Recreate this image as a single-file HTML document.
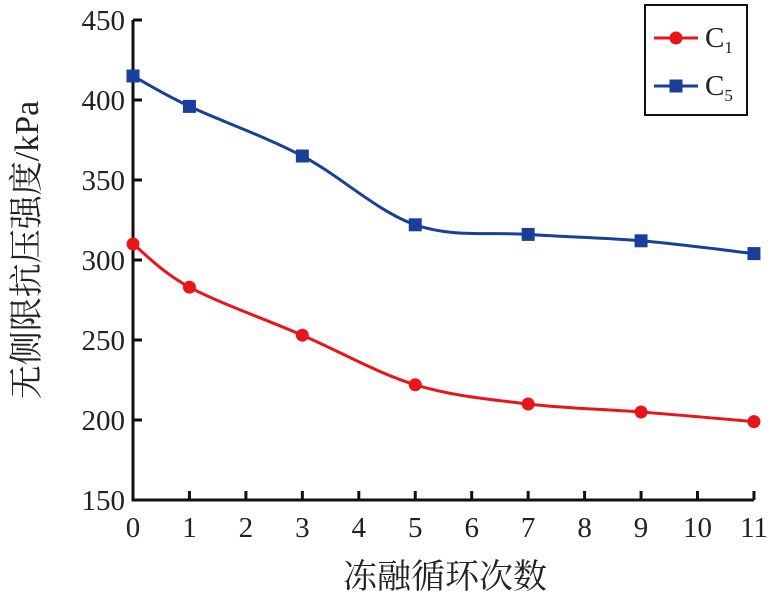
<!DOCTYPE html>
<html><head><meta charset="utf-8"><style>body{margin:0;background:#fff}svg{display:block}text{font-family:"Liberation Serif","Noto Serif CJK SC",serif}</style></head>
<body>
<svg id="c" width="775" height="596"></svg>
<script>
const xCats=[0,1,3,5,7,9,11];
const c1Vals=[310,283,253,222,210,205,199];
const c5Vals=[415,396,365,322,316,312,304];
const xTicks=[0,1,2,3,4,5,6,7,8,9,10,11];
const yTicks=[150,200,250,300,350,400,450];
const NS="http://www.w3.org/2000/svg",svg=document.getElementById('c');
const X=v=>133+v*56.45, Y=v=>500-(v-150)*1.6;
function mk(t,a,p){const e=document.createElementNS(NS,t);for(const k in a)e.setAttribute(k,a[k]);(p||svg).appendChild(e);return e;}
let ax=mk('path',{d:`M${X(0)},${Y(450)}V${Y(150)}H${X(11)}`,fill:'none',stroke:'#111','stroke-width':3});

yTicks.forEach(v=>{mk('line',{x1:X(0),x2:X(0)+9,y1:Y(v),y2:Y(v),stroke:'#111','stroke-width':3});
const t=mk('text',{x:X(0)-8,y:Y(v)+10,'text-anchor':'end','font-size':29,fill:'#222'});t.textContent=v;
});
xTicks.forEach(v=>{mk('line',{x1:X(v),x2:X(v),y1:Y(150),y2:Y(150)-9,stroke:'#111','stroke-width':3});
const t=mk('text',{x:X(v),y:537,'text-anchor':'middle','font-size':29,fill:'#222'});t.textContent=v;
});
let xt=mk('text',{x:445,y:588,'text-anchor':'middle','font-size':34,fill:'#222'});xt.textContent='冻融循环次数';

let yt=mk('text',{x:0,y:0,'text-anchor':'middle','font-size':34,fill:'#222',transform:'translate(38,250) rotate(-90)'});yt.textContent='无侧限抗压强度/kPa';

function smooth(pts){let d=`M${pts[0][0]},${pts[0][1]}`;for(let i=0;i<pts.length-1;i++){const p0=pts[i-1]||pts[i],p1=pts[i],p2=pts[i+1],p3=pts[i+2]||p2;
d+=`C${p1[0]+(p2[0]-p0[0])/6},${p1[1]+(p2[1]-p0[1])/6} ${p2[0]-(p3[0]-p1[0])/6},${p2[1]-(p3[1]-p1[1])/6} ${p2[0]},${p2[1]}`;}return d;}
function series(vals,col,shape,name){const pts=xCats.map((x,i)=>[X(x),Y(vals[i])]);
const l=mk('path',{d:smooth(pts),fill:'none',stroke:col,'stroke-width':3});
pts.forEach(p=>{const m=shape==='c'?mk('circle',{cx:p[0],cy:p[1],r:6.5,fill:col}):mk('rect',{x:p[0]-6.5,y:p[1]-6.5,width:13,height:13,fill:col});
});}
series(c5Vals,'#1a3f9a','s','c5');series(c1Vals,'#e8161b','c','c1');
const lg=mk('g',{});
mk('rect',{x:645,y:5,width:102,height:110,fill:'#fff',stroke:'#111','stroke-width':2},lg);
mk('line',{x1:654,x2:698,y1:38,y2:38,stroke:'#e8161b','stroke-width':3},lg);mk('circle',{cx:676,cy:38,r:6.5,fill:'#e8161b'},lg);
mk('line',{x1:654,x2:698,y1:86,y2:86,stroke:'#1a3f9a','stroke-width':3},lg);mk('rect',{x:669.5,y:79.5,width:13,height:13,fill:'#1a3f9a'},lg);
let a=mk('text',{x:705,y:47,'font-size':29,fill:'#222'},lg);a.innerHTML='C<tspan font-size="17" dy="6">1</tspan>';
let b=mk('text',{x:705,y:95,'font-size':29,fill:'#222'},lg);b.innerHTML='C<tspan font-size="17" dy="6">5</tspan>';
</script>
</body></html>
